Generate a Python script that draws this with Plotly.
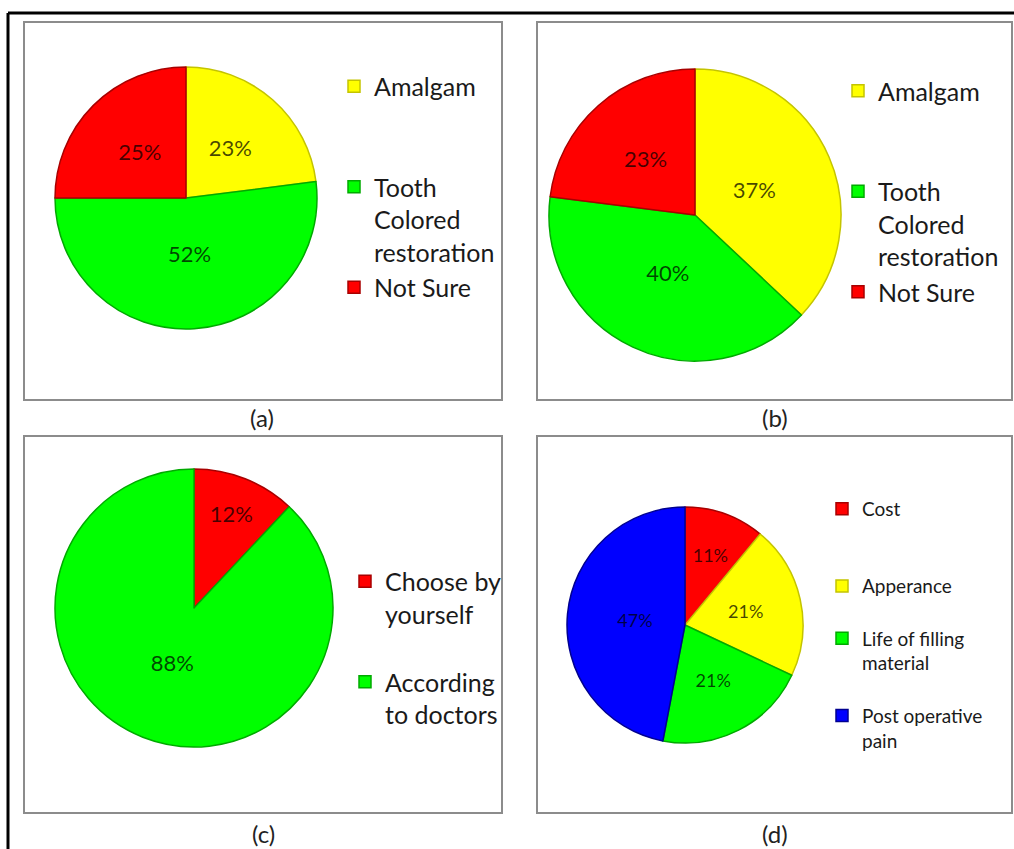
import plotly.graph_objects as go

W, H = 1014, 849

# ---------------- data ----------------
a_labels = ["Amalgam", "Tooth<br>Colored<br>restoration", "Not Sure"]
a_values = [23, 52, 25]

b_labels = ["Amalgam", "Tooth<br>Colored<br>restoration", "Not Sure"]
b_values = [37, 40, 23]

c_labels = ["Choose by<br>yourself", "According<br>to doctors"]
c_values = [12, 88]

d_labels = ["Cost", "Apperance", "Life of filling<br>material", "Post operative<br>pain"]
d_values = [11, 21, 21, 47]

panel_tags = ["(a)", "(b)", "(c)", "(d)"]

# ---------------- style ----------------
YEL, GRN, RED, BLU = "#FFFF00", "#00FF00", "#FF0000", "#0000FF"
EDGE = {YEL: "#C4C400", GRN: "#00AA00", RED: "#A80000", BLU: "#000090"}
FONT = "Lato"
INNER_SCALE = 0.85


def X(px):
    return px / W


def Y(py):
    return 1 - py / H


def dom(cx, cy, r):
    return dict(x=[X(cx - r), X(cx + r)], y=[Y(cy + r), Y(cy - r)])


panels = [
    dict(labels=a_labels, values=a_values, colors=[YEL, GRN, RED], cx=186, cy=198, r=131,
         legend="legend", group="a", pad=[2, 0, 0], tsize=22, outer=[],
         box=(24, 22, 502, 400), tag=(262, 418),
         leg=dict(x=334, top=63.5, size=25)),
    dict(labels=b_labels, values=b_values, colors=[YEL, GRN, RED], cx=695, cy=215, r=146,
         legend="legend2", group="b", pad=[2, 0, 0], tsize=22, outer=[],
         box=(537, 22, 1012, 400), tag=(775, 418),
         leg=dict(x=838, top=68, size=25)),
    dict(labels=c_labels, values=c_values, colors=[RED, GRN], cx=194, cy=608, r=139,
         legend="legend3", group="c", pad=[1, 0], tsize=22, outer=[0],
         box=(24, 436, 502, 813), tag=(263, 833),
         leg=dict(x=345, top=558.5, size=25)),
    dict(labels=d_labels, values=d_values, colors=[RED, YEL, GRN, BLU], cx=685, cy=625, r=118,
         legend="legend4", group="d", pad=[2, 1, 1, 0], tsize=18, outer=[],
         box=(537, 436, 1012, 813), tag=(775, 833),
         leg=dict(x=822, top=490, size=19)),
]

fig = go.Figure()
shapes = []
annotations = []
layout_legends = {}

for i, p in enumerate(panels):
    n = len(p["values"])
    leg_labels = [lab + "<br> " * k for lab, k in zip(p["labels"], p["pad"])]
    main_tpl = ["%{value}%" if j in p["outer"] else "" for j in range(n)]
    inner_tpl = ["" if j in p["outer"] else "%{value}%" for j in range(n)]
    tfont = dict(family=FONT, size=p["tsize"], color="rgba(0,0,0,0.72)")

    fig.add_trace(go.Pie(
        labels=leg_labels, values=p["values"], sort=False, direction="clockwise",
        rotation=0, domain=dom(p["cx"], p["cy"], p["r"]),
        marker=dict(colors=p["colors"],
                    line=dict(color=[EDGE[c] for c in p["colors"]], width=1.5)),
        textposition="inside", insidetextorientation="horizontal",
        texttemplate=main_tpl, insidetextfont=tfont,
        legend=p["legend"], legendgroup=p["group"], hoverinfo="label+percent",
    ))
    fig.add_trace(go.Pie(
        labels=leg_labels, values=p["values"], sort=False, direction="clockwise",
        rotation=0, domain=dom(p["cx"], p["cy"], INNER_SCALE * p["r"]),
        marker=dict(colors=["rgba(0,0,0,0)"] * n, line=dict(width=0)),
        textposition="inside", insidetextorientation="horizontal",
        texttemplate=inner_tpl, insidetextfont=tfont,
        showlegend=False, hoverinfo="skip", legend=p["legend"],
        legendgroup=p["group"] + "_txt",
    ))

    x0, y0, x1, y1 = p["box"]
    shapes.append(dict(type="rect", xref="paper", yref="paper",
                       x0=X(x0), x1=X(x1), y0=Y(y1), y1=Y(y0),
                       line=dict(color="#8c8c8c", width=2), fillcolor="rgba(0,0,0,0)",
                       layer="below"))
    tx, ty = p["tag"]
    annotations.append(dict(text=panel_tags[i], x=X(tx), y=Y(ty), xref="paper", yref="paper",
                            showarrow=False, xanchor="center", yanchor="middle",
                            font=dict(family=FONT, size=24, color="#222222")))
    lg = p["leg"]
    layout_legends[p["legend"]] = dict(
        x=X(lg["x"]), y=Y(lg["top"]), xanchor="left", yanchor="top",
        font=dict(family=FONT, size=lg["size"], color="#1a1a1a"),
        valign="top", bgcolor="rgba(0,0,0,0)", borderwidth=0,
        itemwidth=30, tracegroupgap=0,
    )

# outer black frame (top and left edges visible)
shapes.append(dict(type="line", xref="paper", yref="paper", x0=X(8), x1=1, y0=Y(13), y1=Y(13),
                   line=dict(color="black", width=3)))
shapes.append(dict(type="line", xref="paper", yref="paper", x0=X(8), x1=X(8), y0=0, y1=Y(13),
                   line=dict(color="black", width=3)))

fig.update_layout(
    width=W, height=H,
    margin=dict(l=0, r=0, t=0, b=0, autoexpand=False),
    paper_bgcolor="white", plot_bgcolor="white",
    shapes=shapes, annotations=annotations,
    **layout_legends,
)

fig.write_html("out.html")
